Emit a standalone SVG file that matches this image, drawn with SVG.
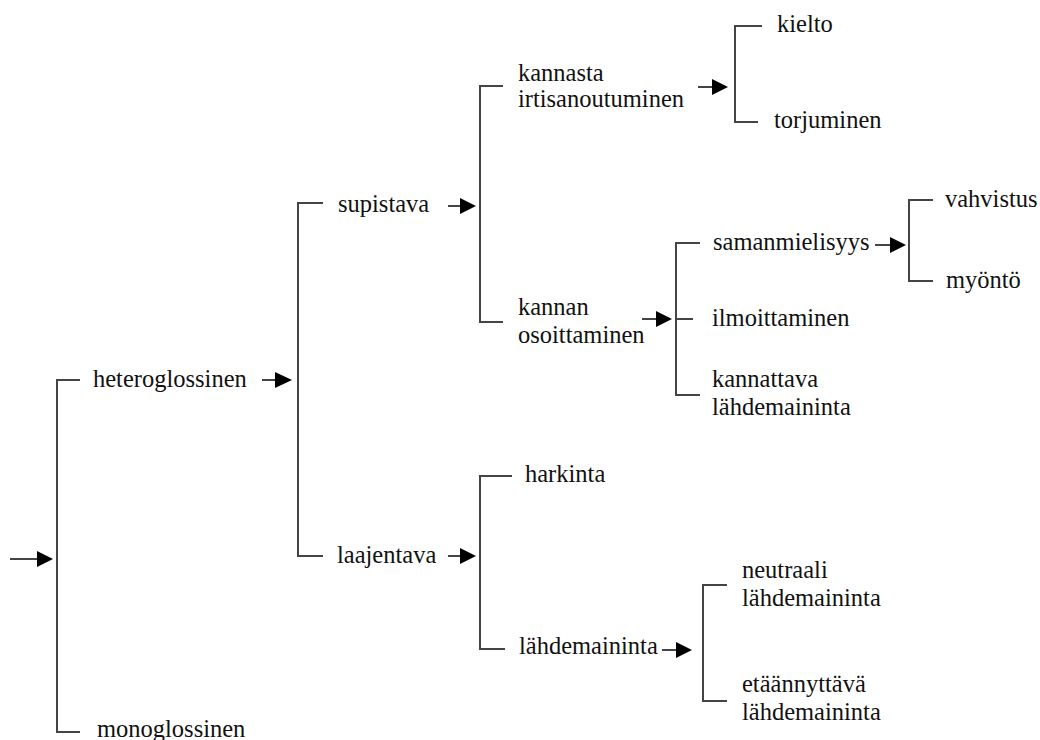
<svg xmlns="http://www.w3.org/2000/svg" width="1040" height="740" viewBox="0 0 1040 740">
<style>
.ln{fill:none;stroke:#444;stroke-width:2}
.ar{fill:none;stroke:#444;stroke-width:2}
.hd{fill:#000}
.t{font-family:'Liberation Serif','Times New Roman',serif;font-size:24.5px;fill:#111}
</style>
<rect width="1040" height="740" fill="#fff"/>
<g id="connectors">
<line class="ar" x1="10" y1="559" x2="38" y2="559"/><polygon class="hd" points="37,551 53,559 37,567"/>
<path class="ln" d="M80,380 H57 V732 H80"/>
<line class="ar" x1="262" y1="380" x2="276" y2="380"/><polygon class="hd" points="275,372 292,380 275,388"/>
<path class="ln" d="M323,203 H298 V556 H323"/>
<line class="ar" x1="448" y1="206" x2="461" y2="206"/><polygon class="hd" points="460,198 476,206 460,214"/>
<path class="ln" d="M503,86 H480 V322 H503"/>
<line class="ar" x1="448" y1="556" x2="461" y2="556"/><polygon class="hd" points="460,548 476,556 460,564"/>
<path class="ln" d="M512,476 H480 V649 H505"/>
<line class="ar" x1="698" y1="87" x2="713" y2="87"/><polygon class="hd" points="712,79 728,87 712,95"/>
<path class="ln" d="M762,26 H735 V122 H758"/>
<line class="ar" x1="642" y1="319" x2="657" y2="319"/><polygon class="hd" points="656,311 672,319 656,327"/>
<path class="ln" d="M700,243 H676 V395 H700"/>
<line class="ln" x1="676" y1="319" x2="693" y2="319"/>
<line class="ar" x1="875" y1="245" x2="891" y2="245"/><polygon class="hd" points="890,237 906,245 890,253"/>
<path class="ln" d="M933,200 H909 V281 H933"/>
<line class="ar" x1="662" y1="650" x2="677" y2="650"/><polygon class="hd" points="676,642 692,650 676,658"/>
<path class="ln" d="M727,585 H703 V701 H727"/>
</g>
<g id="n-heteroglossinen"><text class="t" x="93" y="387">heteroglossinen</text></g>
<g id="n-monoglossinen"><text class="t" x="97" y="737">monoglossinen</text></g>
<g id="n-supistava"><text class="t" x="338" y="212">supistava</text></g>
<g id="n-laajentava"><text class="t" x="337" y="563">laajentava</text></g>
<g id="n-kannasta"><text class="t" x="518" y="81">kannasta</text><text class="t" x="518" y="107">irtisanoutuminen</text></g>
<g id="n-kannan"><text class="t" x="518" y="315">kannan</text><text class="t" x="518" y="343">osoittaminen</text></g>
<g id="n-kielto"><text class="t" x="777" y="32">kielto</text></g>
<g id="n-torjuminen"><text class="t" x="774" y="128">torjuminen</text></g>
<g id="n-samanmielisyys"><text class="t" x="713" y="250">samanmielisyys</text></g>
<g id="n-ilmoittaminen"><text class="t" x="712" y="326">ilmoittaminen</text></g>
<g id="n-kannattava"><text class="t" x="712" y="387">kannattava</text><text class="t" x="712" y="415">lähdemaininta</text></g>
<g id="n-vahvistus"><text class="t" x="945" y="207">vahvistus</text></g>
<g id="n-myonto"><text class="t" x="946" y="288">myöntö</text></g>
<g id="n-harkinta"><text class="t" x="525" y="482">harkinta</text></g>
<g id="n-lahdemaininta"><text class="t" x="519" y="654">lähdemaininta</text></g>
<g id="n-neutraali"><text class="t" x="742" y="578">neutraali</text><text class="t" x="742" y="606">lähdemaininta</text></g>
<g id="n-etaannyttava"><text class="t" x="742" y="692">etäännyttävä</text><text class="t" x="742" y="720">lähdemaininta</text></g>
</svg>
